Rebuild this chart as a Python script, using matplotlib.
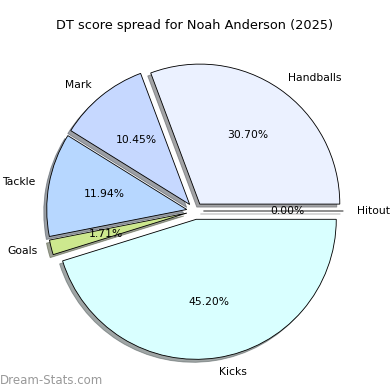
import matplotlib
matplotlib.use("Agg")
import matplotlib.pyplot as plt

# dane z wykresu
labels = ["Handballs", "Mark", "Tackle", "Goals", "Kicks", "Hitout"]
shares = [30.70, 10.45, 11.94, 1.71, 45.20, 0.00]
colors = ["#ebf1ff", "#c6d8ff", "#b7d7ff", "#cde88e", "#d9ffff", "#ffffff"]
explode = [0.06] * len(labels)

fig = plt.figure(figsize=(390 / 77, 390 / 77), dpi=77)
ax = fig.add_axes([20 / 390, 4 / 390, 350 / 390, 350 / 390])
ax.pie(shares, labels=labels, colors=colors, explode=explode, autopct="%.2f%%",
       startangle=0, shadow=True, wedgeprops={"edgecolor": "black", "linewidth": 0.8})
ax.set_aspect("equal")
fig.text(0.5, 1 - 25 / 390, "DT score spread for Noah Anderson (2025)", ha="center", va="center", fontsize=12)
# znak wodny w lewym dolnym rogu
fig.text(0.0, 1 - 380 / 390, "Dream-Stats.com", ha="left", va="center", fontsize=11, color="#999999")
fig.savefig("out.png", dpi=77)
